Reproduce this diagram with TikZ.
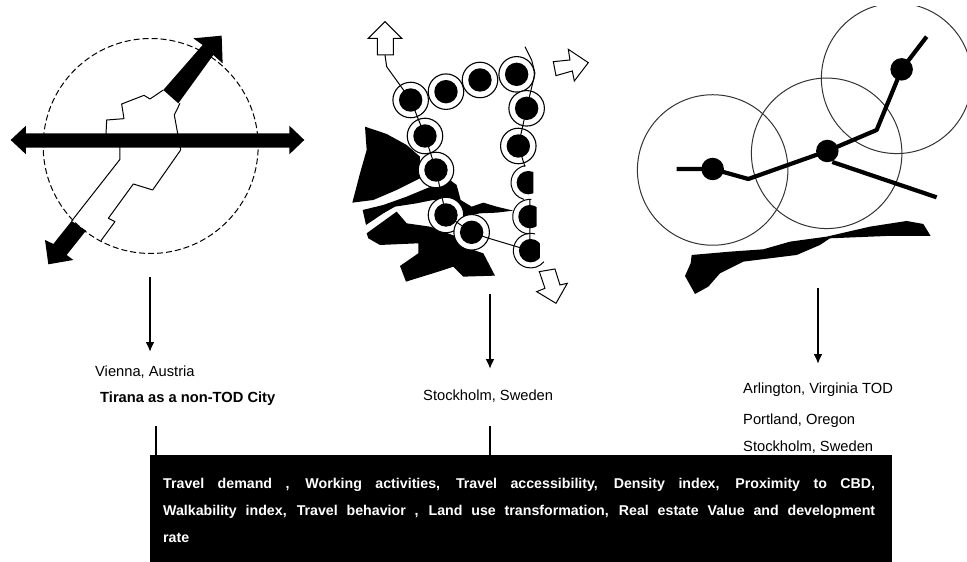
\documentclass[tikz,border=0pt]{standalone}
\usepackage{fontspec}
\setmainfont{Liberation Sans}
\usetikzlibrary{arrows.meta}

\begin{document}
\begin{tikzpicture}[
  x=1pt, y=-1pt,
  thinln/.style={line width=1pt, line join=round},
  road/.style={line width=4.2pt, line join=round},
  blob/.style={fill=black, draw=none},
  hollow/.style={draw, fill=white, line width=1pt, line join=miter},
  stopring/.style={circle, draw, fill=white, line width=1.1pt, minimum size=35.5pt, inner sep=0pt,
    path picture={\fill[black] (path picture bounding box.center) circle (11.7pt);}},
  station/.style={circle, fill=black, minimum size=22.5pt, inner sep=0pt},
  catch/.style={line width=1pt, black!80},
  lbl/.style={anchor=west, inner sep=0pt, font=\fontsize{14.7}{18}\selectfont},
  arr/.style={-{Latex[length=10pt,width=9pt]}, line width=2.4pt},
  stub/.style={line width=2.6pt},
  factorfont/.style={font=\fontsize{14.2}{27}\selectfont\bfseries}
]
\useasboundingbox (0,0) rectangle (967,562);

% left panel
\begin{scope}[shift={(0,20)}, x=0.3333pt, y=-0.3333pt]
\node[circle, draw, dash pattern=on 6pt off 3pt, line width=1pt, minimum size=215pt, inner sep=0pt] (ring) at (452,378) {};
\draw[thinln] (490,210) -- (450,237) -- (432,226) -- (365,252) -- (372,296) -- (320,300) -- (318,345);
\draw[thinln] (360,375) -- (360,418) -- (215,603);
\draw[thinln] (540,250) -- (523,285) -- (533,340) -- (542,390) -- (458,510) -- (400,492) -- (325,595) -- (345,605) -- (303,662);
\fill[black] (490,210) -- (608,75) -- (580,55) -- (665,47) -- (668,130) -- (640,105) -- (535,250) -- cycle;
\fill[black] (215,603) -- (160,672) -- (135,660) -- (145,733) -- (220,720) -- (200,705) -- (258,632) -- cycle;
\fill[black] (32,360) -- (78,317) -- (78,340) -- (868,340) -- (868,317) -- (913,360) -- (868,403) -- (868,383) -- (78,383) -- (78,403) -- cycle;
\end{scope}

% middle panel
\begin{scope}[shift={(340,10)}, x=0.3333pt, y=-0.3333pt]
\fill[blob] (75,350) -- (140,372) -- (200,405) -- (240,440) -- (240,505) -- (170,540) -- (100,570) -- (37,578) -- (60,490) -- (80,420) -- cycle;
\fill[blob] (68,600) -- (130,585) -- (200,560) -- (260,535) -- (330,510) -- (350,525) -- (362,570) -- (395,590) -- (430,578) -- (470,590) -- (520,602) -- (470,608) -- (420,610) -- (370,620) -- (340,575) -- (280,570) -- (230,580) -- (165,590) -- (130,610) -- (78,645) -- cycle;
\fill[blob] (80,670) -- (170,605) -- (200,640) -- (270,650) -- (350,680) -- (400,720) -- (430,730) -- (465,797) -- (370,800) -- (340,770) -- (295,785) -- (198,815) -- (180,768) -- (235,730) -- (235,700) -- (120,705) -- (85,685) -- cycle;
\node[stopring] (s1) at (212,270) {};
\node[stopring] (s2) at (318,245) {};
\node[stopring] (s3) at (420,210) {};
\node[stopring] (s4) at (530,193) {};
\node[stopring] (s5) at (560,295) {};
\node[stopring] (s6) at (535,408) {};
\node[stopring] (s10) at (255,378) {};
\node[stopring] (s11) at (288,480) {};
\node[stopring] (s12) at (318,615) {};
\node[stopring] (s13) at (395,667) {};
% stops cut off along the east edge
\fill[white] (565,518) circle (17.3pt);
\fill[white] (570,620) circle (17.3pt);
\fill[white] (572,722) circle (17.3pt);
\begin{scope}
\clip (500,450) rectangle (580,570);
\fill[black] (565,518) circle (11.7pt);
\end{scope}
\begin{scope}
\clip (500,560) rectangle (590,675);
\fill[black] (570,620) circle (11.7pt);
\end{scope}
\begin{scope}
\clip (500,665) rectangle (600,780);
\fill[black] (572,722) circle (11.7pt);
\end{scope}
\draw[thinln] (565,518) ++(100:17.3pt) arc (100:255:17.3pt);
\draw[thinln] (570,620) ++(85:17.3pt) arc (85:265:17.3pt);
\draw[thinln] (572,722) ++(75:17.3pt) arc (75:320:17.3pt);
\coordinate (t0) at (135,135);
\coordinate (t1) at (140,170);
\coordinate (e0) at (555,110);
\coordinate (e1) at (575,150);
\coordinate (e2) at (585,190);
\coordinate (c7) at (555,470);
\coordinate (c8) at (570,620);
\coordinate (c9) at (570,722);
\draw[thinln] (t0) -- (t1) -- (s1.center) -- (s10.center) -- (s11.center) -- (s12.center) -- (s13.center) -- (440,683) -- (c9) -- (c8) -- (570,570);
\draw[thinln] (c7) -- (s6.center) -- (s5.center) -- (e2) -- (e1) -- (e0);
\draw[hollow] (135,35) -- (185,85) -- (160,85) -- (160,135) -- (112,135) -- (112,85) -- (85,85) -- cycle;
\draw[hollow] (640,155) -- (690,150) -- (685,118) -- (745,158) -- (703,213) -- (697,183) -- (648,197) -- cycle;
\draw[hollow] (598,785) -- (645,777) -- (660,825) -- (682,820) -- (648,880) -- (590,845) -- (615,835) -- cycle;
\end{scope}

% right panel
\begin{scope}[shift={(630,0)}, x=0.3333pt, y=-0.3333pt]
\node[circle, draw, catch, minimum size=150.5pt, inner sep=0pt] (cA) at (248,510) {};
\node[circle, draw, catch, minimum size=150.5pt, inner sep=0pt] (cB) at (590,460) {};
\begin{scope}
\clip (500,20) rectangle (1011,500);
\node[circle, draw, catch, minimum size=150.5pt, inner sep=0pt] (cC) at (800,235) {};
\end{scope}
\fill[blob] (185,765) -- (300,755) -- (400,748) -- (480,725) -- (590,710) -- (720,680) -- (830,663) -- (880,672) -- (902,708) -- (770,708) -- (600,715) -- (570,735) -- (500,765) -- (340,785) -- (270,820) -- (235,860) -- (195,882) -- (165,828) -- (182,790) -- cycle;
\node[station] (a) at (248,507) {};
\node[station] (b) at (592,453) {};
\node[station] (c) at (815,208) {};
\coordinate (r0) at (140,507);
\coordinate (r1) at (355,537);
\coordinate (r2) at (740,390);
\coordinate (r3) at (890,110);
\coordinate (r5) at (920,592);
\draw[road] (r0) -- (a.center) -- (r1) -- (b.center) -- (r2) -- (c.center) -- (r3);
\draw[road] (b.center) ++(15,33) -- (r5);
\end{scope}

\node[lbl] (vienna) at (95,372) {Vienna, Austria};
\node[lbl, font=\fontsize{14.7}{18}\selectfont\bfseries] (tirana) at (100,399) {Tirana as a non-TOD City};
\node[lbl] (stock) at (423,396) {Stockholm, Sweden};
\node[lbl] (arl) at (743,390) {Arlington, Virginia TOD};
\node[lbl] (port) at (743,421) {Portland, Oregon};
\node[lbl] (stock2) at (743,447) {Stockholm, Sweden};

\node[fill=black, anchor=north west, minimum width=742pt, minimum height=107pt, inner sep=0pt] (factors) at (150,455) {};
\node[text=white, factorfont, text width=712pt, align=justify, anchor=north west, inner sep=0pt] (factortext) at (163,478) {Travel demand , Working activities, Travel accessibility, Density index, Proximity to CBD,\linebreak Walkability index, Travel behavior , Land use transformation, Real estate Value and development\linebreak rate};

\coordinate (p1) at (150,277);
\coordinate (q1) at (150,352);
\coordinate (p2) at (490,294);
\coordinate (q2) at (490,369);
\coordinate (p3) at (818,288);
\coordinate (q3) at (818,364);
\draw[arr] (p1) -- (q1);
\draw[arr] (p2) -- (q2);
\draw[arr] (p3) -- (q3);
\coordinate (u1) at (156,426);
\coordinate (u2) at (490,426);
\draw[stub] (u1) -- (u1 |- factors.north);
\draw[stub] (u2) -- (u2 |- factors.north);
\end{tikzpicture}
\end{document}
